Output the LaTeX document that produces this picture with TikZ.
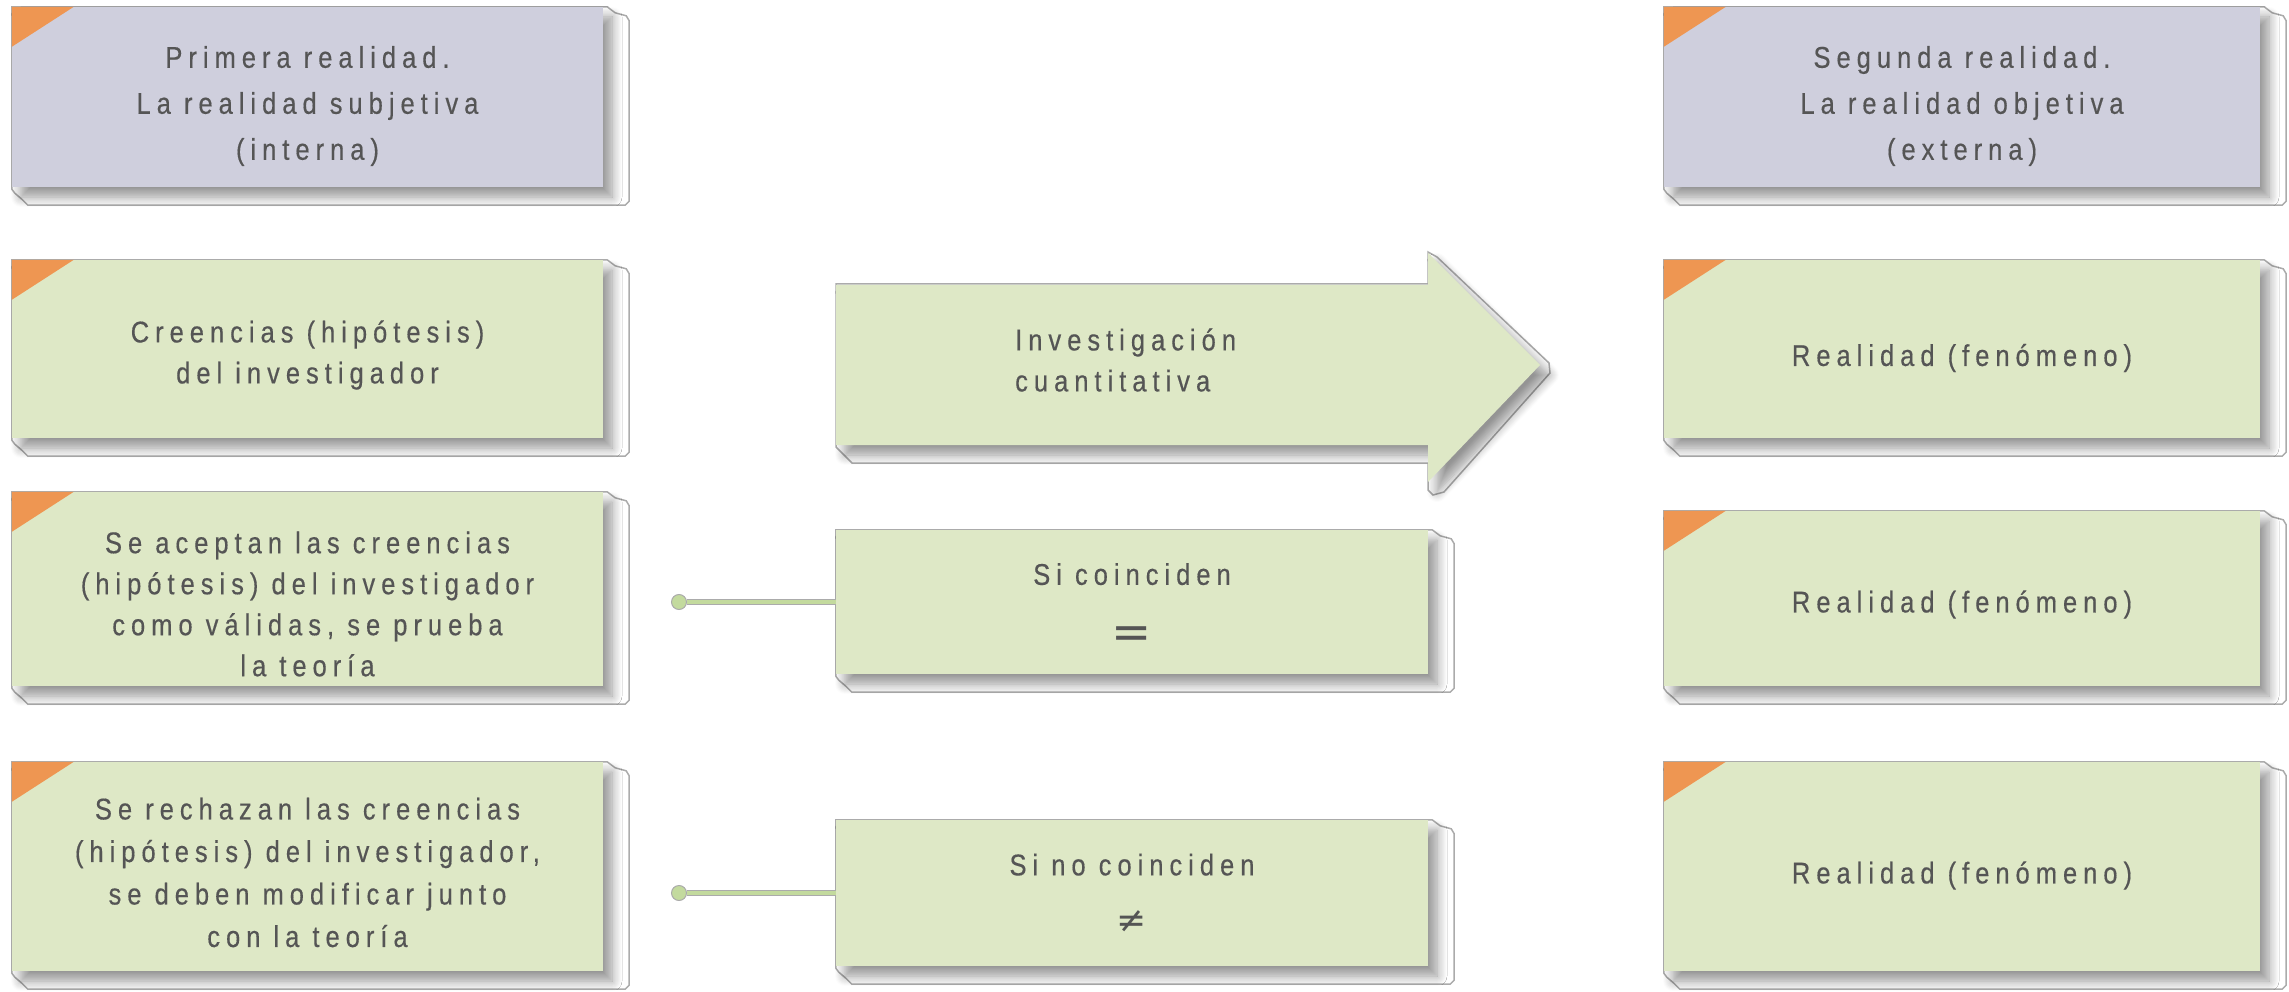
\documentclass[tikz,border=0pt]{standalone}
\usepackage{fontspec}
\setmainfont{Liberation Sans}[FakeStretch=0.85,LetterSpace=20,FakeBold=0.4]
\newfontfamily\symf{DejaVu Sans}
\usetikzlibrary{shadows.blur,backgrounds,calc}
\definecolor{lav}{HTML}{CFCFDD}
\definecolor{grn}{HTML}{DEE8C6}
\definecolor{org}{HTML}{EE9652}
\definecolor{frm}{HTML}{ABABAB}
\definecolor{txt}{HTML}{555555}
\definecolor{dotg}{HTML}{C3DA9E}
\tikzset{
  shad/.style={blur shadow={shadow xshift=9pt, shadow yshift=-10pt, shadow blur radius=10pt,
      shadow blur steps=10, shadow opacity=42}},
  base/.style={draw=none, inner sep=0pt, shad},
  lbox/.style={base, fill=lav},
  gbox/.style={base, fill=grn},
  txtn/.style={inner sep=0pt, align=center, text=txt, font=\fontsize{30}{41}\selectfont},
  frameline/.style={draw=frm, line width=1.5pt, fill=white},
  corner/.style={fill=org},
  dotn/.style={circle, fill=dotg, draw=frm, line width=1pt, minimum size=15pt, inner sep=0pt},
  conn/.style={draw=frm, line width=1pt, double=dotg, double distance=4pt},
}
\newcommand\drawframe[1]{%
  \draw[frameline] (#1.north west) -- ([xshift=4pt]#1.north east)
    -- ([xshift=12pt,yshift=-6pt]#1.north east)
    -- ([xshift=23pt,yshift=-9pt]#1.north east)
    -- ([xshift=26pt,yshift=-14pt]#1.north east)
    -- ([xshift=26pt,yshift=-14pt]#1.south east)
    -- ([xshift=22pt,yshift=-18pt]#1.south east)
    -- ([xshift=16pt,yshift=-18pt]#1.south west)
    -- ([xshift=10pt,yshift=-12pt]#1.south west)
    -- ([xshift=3pt,yshift=-6pt]#1.south west)
    -- ([yshift=-2pt]#1.south west) -- cycle;}
\newcommand\drawcorner[1]{%
  \fill[corner] (#1.north west) -- ++(62,0) -- ++(-62,40) -- cycle;}
\begin{document}
\begin{tikzpicture}[x=1pt,y=-1pt]
\useasboundingbox (0,0) rectangle (2289,992);
% left column
\node[lbox, minimum width=591pt, minimum height=180pt] (p1) at (307.5,97) {};
\node[txtn, font=\fontsize{30}{46}\selectfont] (p1t) at ([yshift=-9pt]p1.center)
  {Primera realidad.\\La realidad subjetiva\\(interna)};
\node[gbox, minimum width=591pt, minimum height=178pt] (p2) at (307.5,349) {};
\node[txtn] (p2t) at ([yshift=-6pt]p2.center) {Creencias (hipótesis)\\del investigador};
\node[gbox, minimum width=591pt, minimum height=194pt] (p3) at (307.5,589) {};
\node[txtn] (p3t) at ([yshift=-15pt]p3.center)
  {Se aceptan las creencias\\(hipótesis) del investigador\\como válidas, se prueba\\la teoría};
\node[gbox, minimum width=591pt, minimum height=209pt] (p4) at (307.5,866.5) {};
\node[txtn, font=\fontsize{30}{42.5}\selectfont] (p4t) at ([yshift=-6pt]p4.center)
  {Se rechazan las creencias\\(hipótesis) del investigador,\\se deben modificar junto\\con la teoría};
% right column
\node[lbox, minimum width=596pt, minimum height=180pt] (s1) at (1962,97) {};
\node[txtn, font=\fontsize{30}{46}\selectfont] (s1t) at ([yshift=-9pt]s1.center)
  {Segunda realidad.\\La realidad objetiva\\(externa)};
\node[gbox, minimum width=596pt, minimum height=178pt] (s2) at (1962,349) {};
\node[txtn] (s2t) at ([yshift=-9pt]s2.center) {Realidad (fenómeno)};
\node[gbox, minimum width=596pt, minimum height=175pt] (s3) at (1962,598.5) {};
\node[txtn] (s3t) at ([yshift=-6pt]s3.center) {Realidad (fenómeno)};
\node[gbox, minimum width=596pt, minimum height=209pt] (s4) at (1962,866.5) {};
\node[txtn] (s4t) at ([yshift=-9pt]s4.center) {Realidad (fenómeno)};
% middle column
\fill[grn, shad]
  (836,285) -- (1428,285) -- (1428,253) -- (1540,365) -- (1428,482) -- (1428,445) -- (836,445) -- cycle;
\node[txtn, align=left, anchor=west] (inv) at (1015,360) {Investigación\\cuantitativa};
\node[gbox, minimum width=592pt, minimum height=144pt] (m1) at (1132,602) {};
\node[txtn, font=\fontsize{30}{64}\selectfont] (m1t) at ([yshift=-4pt]m1.center)
  {Si coinciden\\{\symf\fontsize{48}{48}\selectfont =}};
\node[gbox, minimum width=592pt, minimum height=146pt] (m2) at (1132,893) {};
\node[txtn, font=\fontsize{30}{57}\selectfont] (m2t) at (m2.center)
  {Si no coinciden\\{\symf\fontsize{36}{36}\selectfont ≠}};
% frames
\begin{scope}[on background layer]
  \foreach \n in {p1,p2,p3,p4,s1,s2,s3,s4,m1,m2} {\drawframe{\n}}
  \draw[frameline] (836,284) -- (1428,284) -- (1428,252) -- (1437,257) -- (1549,363)
    -- (1550,373) -- (1444,492) -- (1433,495) -- (1428,490) -- (1428,463)
    -- (852,463) -- (843,454) -- (836,447) -- cycle;
\end{scope}
% corners
\foreach \n in {p1,p2,p3,p4,s1,s2,s3,s4} {\drawcorner{\n}}
% connectors
\node[dotn] (d1) at (679,602) {};
\node[dotn] (d2) at (679,893) {};
\draw[conn] (d1) -- (m1.west);
\draw[conn] (d2) -- (m2.west);
\end{tikzpicture}
\end{document}
